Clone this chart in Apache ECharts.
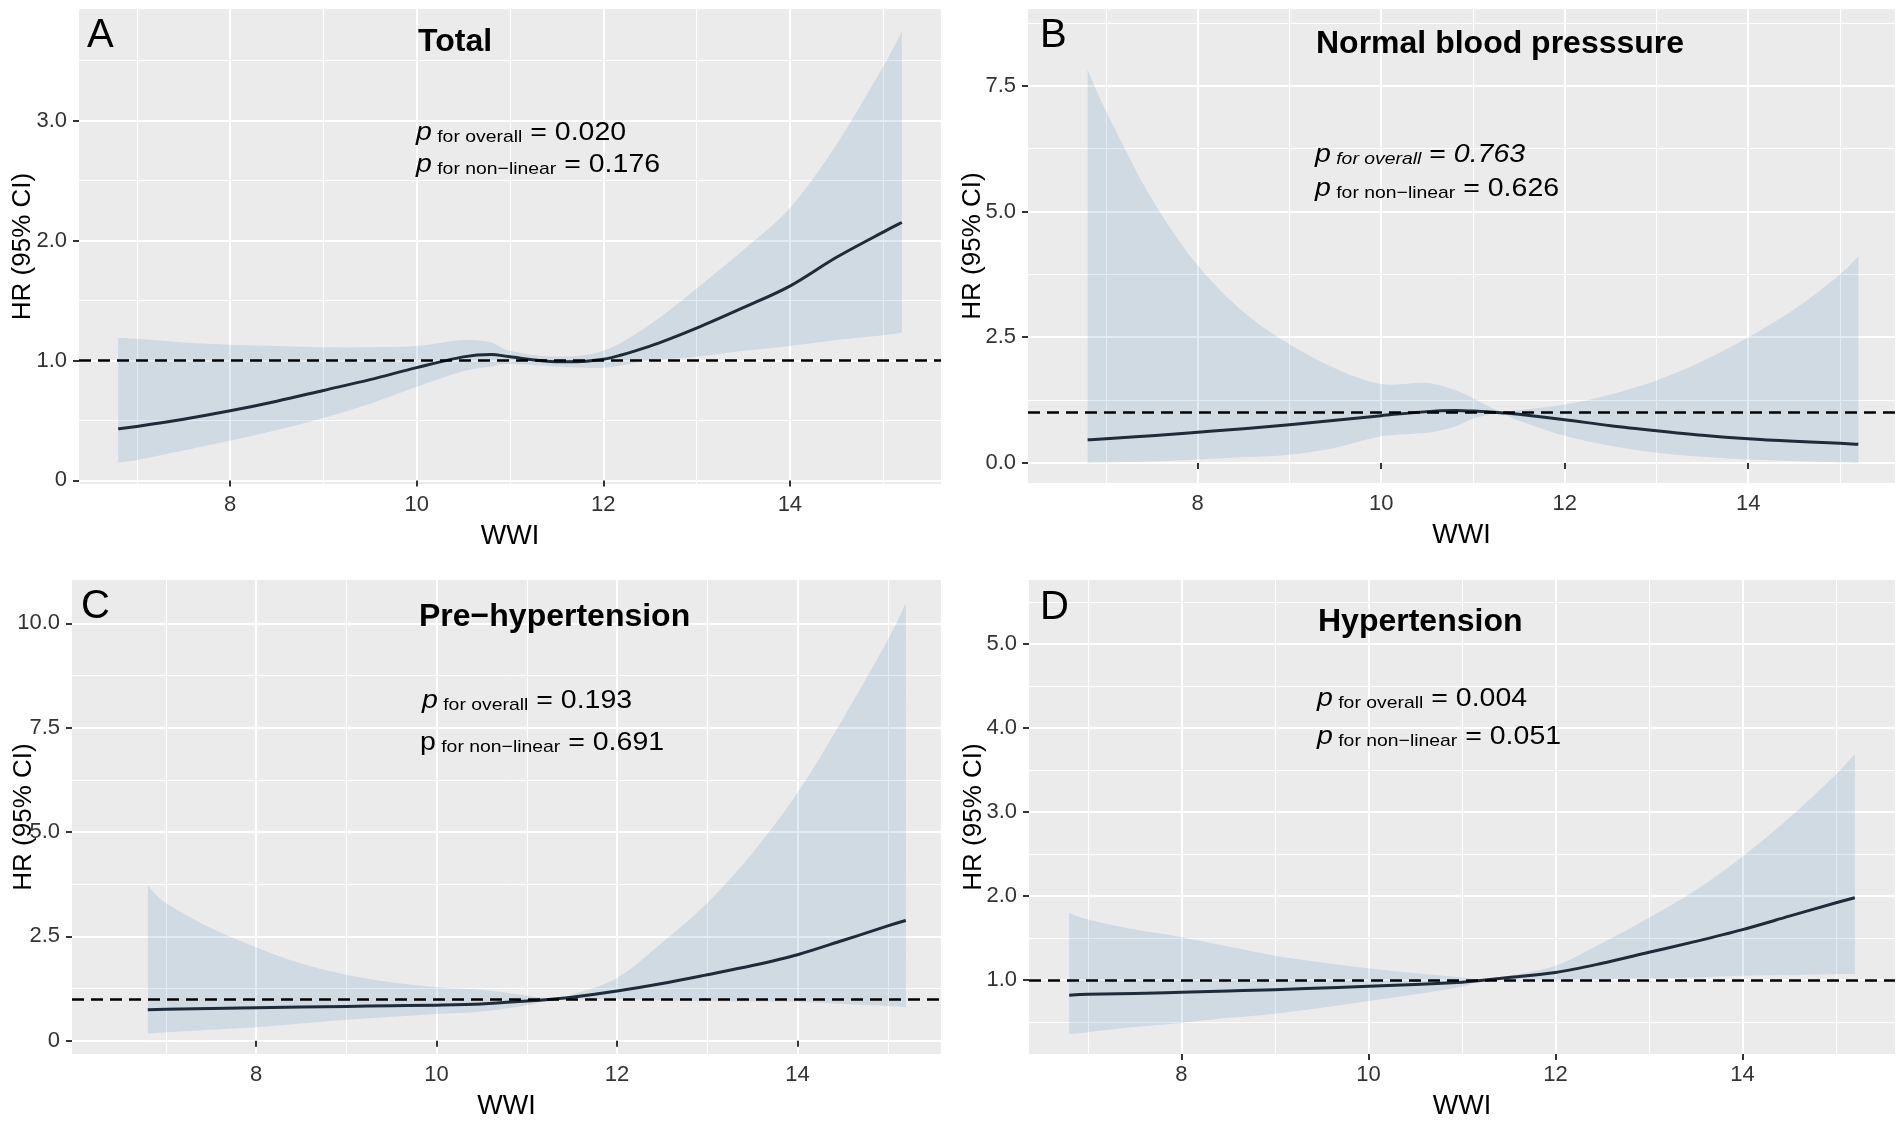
<!DOCTYPE html>
<html>
<head>
<meta charset="utf-8">
<title>HR vs WWI</title>
<script src="https://cdn.jsdelivr.net/npm/echarts@6/dist/echarts.min.js"></script>
<style>
  html, body { margin: 0; padding: 0; background: #fff; }
  #chart { width: 1900px; height: 1127px; }
</style>
</head>
<body>
<div id="chart"></div>
<script>
// Panel texts
const panelLetters = ['A', 'B', 'C', 'D'];
const panelTitles = ['Total', 'Normal blood presssure', 'Pre\u2212hypertension', 'Hypertension'];
const pOverall = ['0.020', '0.763', '0.193', '0.004'];
const pNonLinear = ['0.176', '0.626', '0.691', '0.051'];

// Tick values
const xTicks = [8, 10, 12, 14];
const xMinor = [7, 9, 11, 13, 15];
const yTicksA = [0, 1, 2, 3];
const yMinorA = [0.5, 1.5, 2.5, 3.5];
const yTicksB = [0, 2.5, 5, 7.5];
const yMinorB = [1.25, 3.75, 6.25, 8.75];
const yTicksC = [0, 2.5, 5, 7.5, 10];
const yMinorC = [1.25, 3.75, 6.25, 8.75];
const yTicksD = [1, 2, 3, 4, 5];
const yMinorD = [0.5, 1.5, 2.5, 3.5, 4.5, 5.5];

// A: Total
const xA = [6.8, 7, 7.5, 8, 8.5, 9, 9.5, 10, 10.5, 10.8, 11, 11.5, 12, 12.5, 13, 13.5, 14, 14.5, 15, 15.2];
const hrA = [0.43, 0.45, 0.51, 0.58, 0.66, 0.75, 0.84, 0.94, 1.03, 1.05, 1.03, 0.99, 1.01, 1.12, 1.27, 1.44, 1.62, 1.86, 2.07, 2.15];
const upA = [1.19, 1.18, 1.15, 1.13, 1.12, 1.11, 1.11, 1.12, 1.17, 1.15, 1.08, 1.03, 1.08, 1.3, 1.6, 1.92, 2.27, 2.8, 3.45, 3.74];
const loA = [0.15, 0.17, 0.25, 0.33, 0.42, 0.52, 0.64, 0.78, 0.91, 0.95, 0.97, 0.95, 0.94, 1.0, 1.03, 1.08, 1.12, 1.17, 1.21, 1.23];

// B: Normal blood pressure
const xB = [6.8, 7, 7.5, 8, 8.5, 9, 9.5, 10, 10.5, 10.8, 11, 11.3, 11.5, 12, 12.5, 13, 13.5, 14, 14.5, 15, 15.2];
const hrB = [0.46, 0.48, 0.54, 0.61, 0.68, 0.76, 0.85, 0.94, 1.02, 1.04, 1.03, 1.0, 0.97, 0.86, 0.74, 0.64, 0.55, 0.48, 0.43, 0.39, 0.37];
const upB = [7.82, 7.0, 5.25, 3.93, 3.0, 2.36, 1.88, 1.57, 1.59, 1.45, 1.29, 1.02, 1.05, 1.16, 1.36, 1.64, 2.02, 2.5, 3.05, 3.75, 4.11];
const loB = [0.0, 0.01, 0.03, 0.07, 0.11, 0.16, 0.3, 0.53, 0.6, 0.72, 0.88, 0.98, 0.84, 0.54, 0.34, 0.2, 0.12, 0.07, 0.04, 0.01, 0.0];

// C: Pre-hypertension
const xC = [6.8, 7, 7.5, 8, 8.5, 9, 9.5, 10, 10.5, 11, 11.3, 11.5, 12, 12.5, 13, 13.5, 14, 14.5, 15, 15.2];
const hrC = [0.74, 0.75, 0.77, 0.79, 0.805, 0.82, 0.835, 0.85, 0.88, 0.95, 1.0, 1.04, 1.19, 1.37, 1.58, 1.8, 2.06, 2.4, 2.75, 2.88];
const upC = [3.72, 3.3, 2.7, 2.24, 1.85, 1.58, 1.4, 1.28, 1.22, 1.08, 1.0, 1.1, 1.5, 2.35, 3.3, 4.5, 5.94, 7.7, 9.6, 10.48];
const loC = [0.17, 0.2, 0.26, 0.32, 0.41, 0.5, 0.57, 0.64, 0.7, 0.85, 1.0, 0.99, 0.99, 0.97, 0.95, 0.94, 0.93, 0.88, 0.83, 0.8];

// D: Hypertension
const xD = [6.8, 7, 7.5, 8, 8.5, 9, 9.5, 10, 10.5, 11, 11.2, 11.5, 12, 12.5, 13, 13.5, 14, 14.5, 15, 15.2];
const hrD = [0.82, 0.83, 0.84, 0.855, 0.87, 0.885, 0.905, 0.925, 0.948, 0.975, 0.995, 1.03, 1.09, 1.2, 1.33, 1.46, 1.6, 1.76, 1.92, 1.98];
const upD = [1.8, 1.72, 1.6, 1.51, 1.4, 1.29, 1.21, 1.14, 1.08, 1.03, 1.0, 1.05, 1.17, 1.44, 1.74, 2.07, 2.47, 2.93, 3.45, 3.69];
const loD = [0.36, 0.38, 0.44, 0.49, 0.55, 0.6, 0.67, 0.75, 0.83, 0.92, 0.99, 0.99, 0.99, 1.01, 1.02, 1.03, 1.05, 1.06, 1.07, 1.07];

const FONT = '"Liberation Sans", Arial, sans-serif';
const BAND = 'rgba(70,130,180,0.16)';
const LINE = '#1e2b38';

const panels = [
  { x: xA, hr: hrA, up: upA, lo: loA, yTicks: yTicksA, yMinor: yMinorA,
    grid: { left: 79, top: 9, width: 862, height: 475 },
    xMin: 6.38, xMax: 15.62, yMin: -0.03, yMax: 3.93, yGap: 43,
    fmt: v => v === 0 ? '0' : v.toFixed(1),
    letter: [87, 36], title: [418, 42], row1: [416, 131], row2: [416, 163] },
  { x: xB, hr: hrB, up: upB, lo: loB, yTicks: yTicksB, yMinor: yMinorB,
    grid: { left: 1028, top: 9, width: 867, height: 474 },
    xMin: 6.15, xMax: 15.6, yMin: -0.4, yMax: 9.03, yGap: 42,
    fmt: v => v.toFixed(1),
    letter: [1040, 36], title: [1316, 44], row1: [1315, 153], row2: [1315, 187] },
  { x: xC, hr: hrC, up: upC, lo: loC, yTicks: yTicksC, yMinor: yMinorC,
    grid: { left: 72, top: 580, width: 869, height: 474 },
    xMin: 5.96, xMax: 15.59, yMin: -0.32, yMax: 11.04, yGap: 35,
    fmt: v => v === 0 ? '0' : v.toFixed(1),
    letter: [81, 607], title: [419, 617], row1: [422, 699], row2: [420, 741] },
  { x: xD, hr: hrD, up: upD, lo: loD, yTicks: yTicksD, yMinor: yMinorD,
    grid: { left: 1029, top: 580, width: 866, height: 474 },
    xMin: 6.37, xMax: 15.63, yMin: 0.12, yMax: 5.76, yGap: 42,
    fmt: v => v.toFixed(1),
    letter: [1040, 608], title: [1318, 622], row1: [1317, 697], row2: [1317, 735] }
];

const tok = (extra) => Object.assign({ fontFamily: FONT, fill: '#000', verticalAlign: 'bottom' }, extra);
const rich = {
  p: tok({ fontSize: 25, fontStyle: 'italic', lineHeight: 30 }),
  pu: tok({ fontSize: 25, lineHeight: 30 }),
  s: tok({ fontSize: 17, lineHeight: 15 }),
  si: tok({ fontSize: 17, fontStyle: 'italic', lineHeight: 15 }),
  v: tok({ fontSize: 25, lineHeight: 30 }),
  vi: tok({ fontSize: 25, fontStyle: 'italic', lineHeight: 30 })
};

// p-value lines (panel B row 1 is italic, panel C row 2 has an upright p)
const row1Text = [
  `{p|p}{s| for overall}{v| = ${pOverall[0]}}`,
  `{p|p}{si| for overall}{v| = }{vi|${pOverall[1]}}`,
  `{p|p}{s| for overall}{v| = ${pOverall[2]}}`,
  `{p|p}{s| for overall}{v| = ${pOverall[3]}}`
];
const row2Text = [
  `{p|p}{s| for non\u2212linear}{v| = ${pNonLinear[0]}}`,
  `{p|p}{s| for non\u2212linear}{v| = ${pNonLinear[1]}}`,
  `{pu|p}{s| for non\u2212linear}{v| = ${pNonLinear[2]}}`,
  `{p|p}{s| for non\u2212linear}{v| = ${pNonLinear[3]}}`
];

// Catmull-Rom through pixel points, control x kept inside each segment
function splinePath(pts) {
  let d = '';
  const n = pts.length;
  for (let i = 0; i < n - 1; i++) {
    const p0 = pts[Math.max(i - 1, 0)], p1 = pts[i], p2 = pts[i + 1], p3 = pts[Math.min(i + 2, n - 1)];
    const lo = Math.min(p1[0], p2[0]), hi = Math.max(p1[0], p2[0]);
    const c1x = Math.min(hi, Math.max(lo, p1[0] + (p2[0] - p0[0]) / 6));
    const c1y = p1[1] + (p2[1] - p0[1]) / 6;
    const c2x = Math.min(hi, Math.max(lo, p2[0] - (p3[0] - p1[0]) / 6));
    const c2y = p2[1] - (p3[1] - p1[1]) / 6;
    d += ` C${c1x},${c1y} ${c2x},${c2y} ${p2[0]},${p2[1]}`;
  }
  return d;
}

function bandRenderer(p) {
  return function (params, api) {
    if (params.dataIndex !== 0) return null;
    const up = p.x.map((x, k) => api.coord([x, p.up[k]]));
    const lo = p.x.map((x, k) => api.coord([x, p.lo[k]])).reverse();
    const d = `M${up[0][0]},${up[0][1]}` + splinePath(up) +
      ` L${lo[0][0]},${lo[0][1]}` + splinePath(lo) + ' Z';
    return {
      type: 'path',
      shape: { pathData: d },
      style: { fill: BAND, stroke: null }
    };
  };
}

function curveRenderer(p) {
  return function (params, api) {
    if (params.dataIndex !== 0) return null;
    const pts = p.x.map((x, k) => api.coord([x, p.hr[k]]));
    return {
      type: 'path',
      shape: { pathData: `M${pts[0][0]},${pts[0][1]}` + splinePath(pts) },
      style: { fill: null, stroke: LINE, lineWidth: 3 }
    };
  };
}

const option = {
  animation: false,
  backgroundColor: '#fff',
  grid: [], xAxis: [], yAxis: [], series: [], graphic: []
};

panels.forEach((p, i) => {
  option.grid.push(Object.assign({
    show: true, backgroundColor: '#EBEBEB', borderWidth: 0,
    containLabel: false, outerBoundsMode: 'none'
  }, p.grid));

  // main x axis
  option.xAxis.push({
    type: 'value', gridIndex: i, min: p.xMin, max: p.xMax, position: 'bottom',
    axisLine: { show: false },
    axisTick: { show: true, length: 6, customValues: xTicks, lineStyle: { color: '#333', width: 2 } },
    axisLabel: { customValues: xTicks, color: '#333', fontSize: 22, fontFamily: FONT, margin: 10 },
    splitLine: { show: true, lineStyle: { color: '#fff', width: 2 } },
    name: 'WWI', nameLocation: 'middle', nameGap: 39, nameMoveOverlap: false,
    nameTextStyle: { fontSize: 27, color: '#000', fontFamily: FONT }
  });
  // minor x grid
  option.xAxis.push({
    type: 'value', gridIndex: i, min: p.xMin, max: p.xMax, position: 'top',
    axisLine: { show: false },
    axisTick: { show: false, customValues: xMinor },
    axisLabel: { show: false, customValues: xMinor },
    splitLine: { show: true, lineStyle: { color: '#fff', width: 1 } }
  });
  // main y axis
  option.yAxis.push({
    type: 'value', gridIndex: i, min: p.yMin, max: p.yMax, position: 'left',
    axisLine: { show: false },
    axisTick: { show: true, length: 6, customValues: p.yTicks, lineStyle: { color: '#333', width: 2 } },
    axisLabel: { customValues: p.yTicks, color: '#333', fontSize: 22, fontFamily: FONT, margin: 12, formatter: p.fmt },
    splitLine: { show: true, lineStyle: { color: '#fff', width: 2 } },
    name: 'HR (95% CI)', nameLocation: 'middle', nameGap: p.yGap, nameMoveOverlap: false,
    nameTextStyle: { fontSize: 26, color: '#000', fontFamily: FONT }
  });
  // minor y grid
  option.yAxis.push({
    type: 'value', gridIndex: i, min: p.yMin, max: p.yMax, position: 'right',
    axisLine: { show: false },
    axisTick: { show: false, customValues: p.yMinor },
    axisLabel: { show: false, customValues: p.yMinor },
    splitLine: { show: true, lineStyle: { color: '#fff', width: 1 } }
  });

  const xi = 2 * i, yi = 2 * i;

  // confidence band
  option.series.push({
    type: 'custom', xAxisIndex: xi, yAxisIndex: yi,
    data: p.x.map((x, k) => [x, p.lo[k], p.up[k]]),
    encode: { x: 0, y: [1, 2] },
    renderItem: bandRenderer(p),
    clip: true, silent: true, z: 2
  });
  // hazard ratio curve
  option.series.push({
    type: 'custom', xAxisIndex: xi, yAxisIndex: yi,
    data: p.x.map((x, k) => [x, p.hr[k]]),
    encode: { x: 0, y: 1 },
    renderItem: curveRenderer(p),
    clip: true, silent: true, z: 4
  });
  // reference line at HR = 1
  option.series.push({
    type: 'line', xAxisIndex: xi, yAxisIndex: yi, data: [], silent: true, z: 3,
    markLine: {
      silent: true, symbol: 'none', label: { show: false }, animation: false,
      lineStyle: { color: '#000', type: [12, 7], width: 2.6 },
      data: [{ yAxis: 1 }]
    }
  });

  option.graphic.push(
    { type: 'text', x: p.letter[0], y: p.letter[1], z: 100,
      style: { text: panelLetters[i], font: `40px ${FONT}`, fill: '#000', verticalAlign: 'middle' } },
    { type: 'text', x: p.title[0], y: p.title[1], z: 100,
      style: { text: panelTitles[i], font: `bold 32px ${FONT}`, fill: '#000', verticalAlign: 'middle' } },
    { type: 'text', x: p.row1[0], y: p.row1[1], scaleX: 1.14, z: 100,
      style: { text: row1Text[i], rich: rich, font: `25px ${FONT}`, fill: '#000', verticalAlign: 'middle' } },
    { type: 'text', x: p.row2[0], y: p.row2[1], scaleX: 1.14, z: 100,
      style: { text: row2Text[i], rich: rich, font: `25px ${FONT}`, fill: '#000', verticalAlign: 'middle' } }
  );
});

const chart = echarts.init(document.getElementById('chart'));
chart.setOption(option);
</script>
</body>
</html>
